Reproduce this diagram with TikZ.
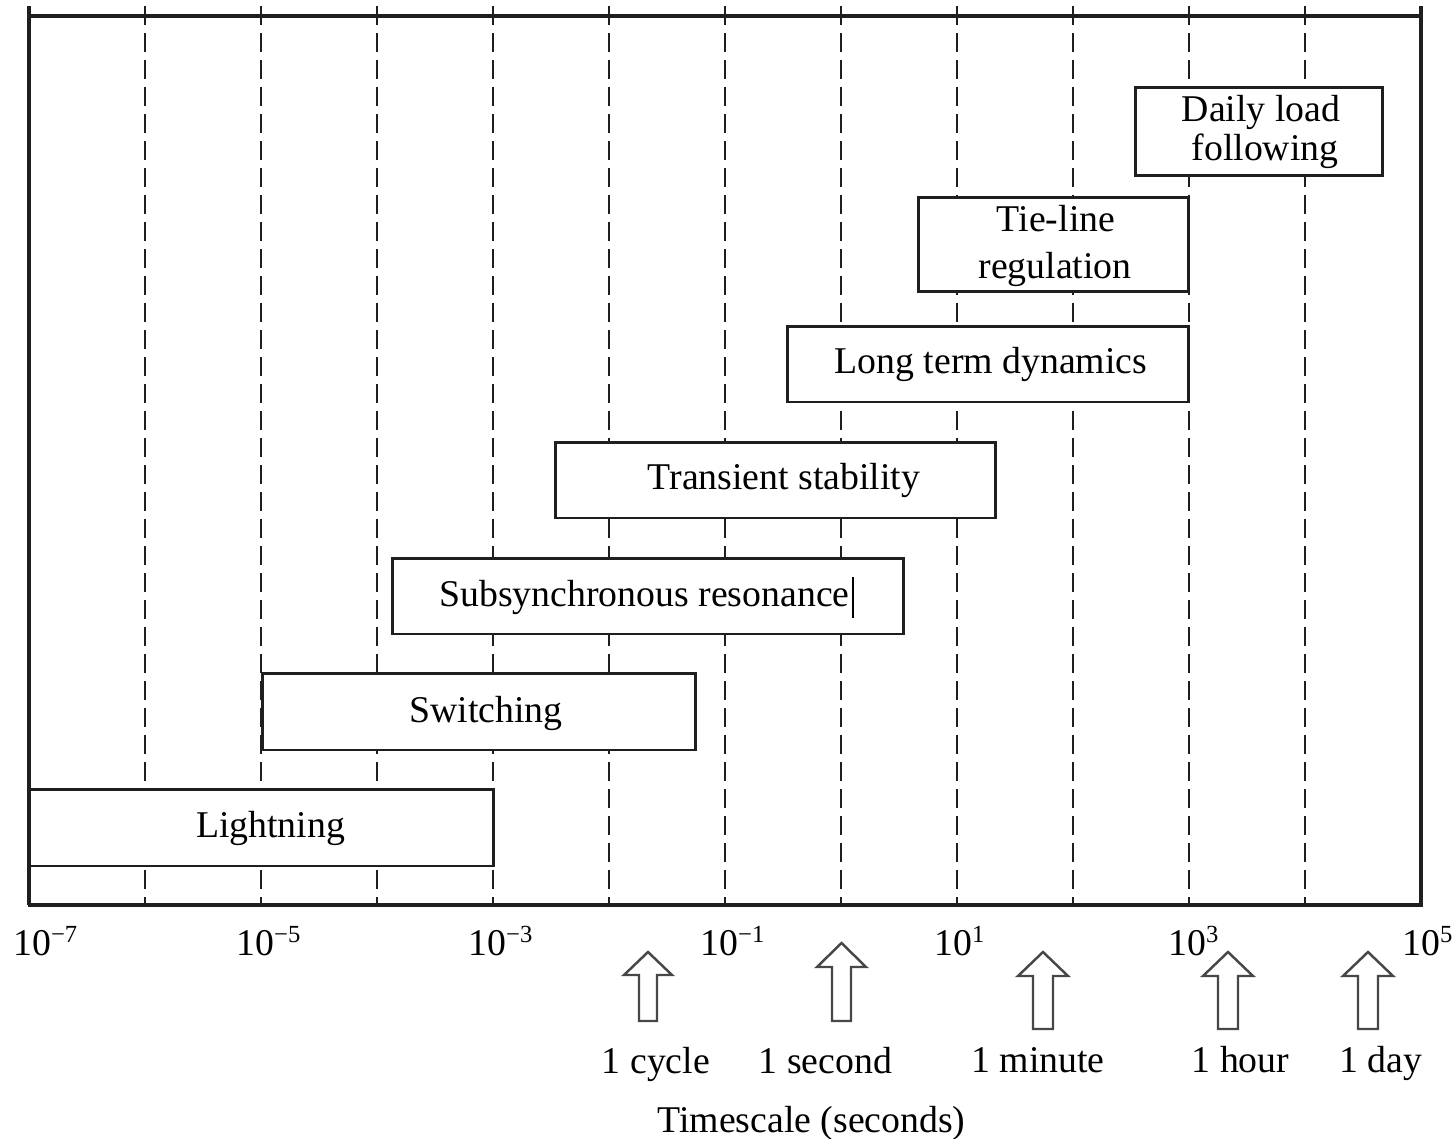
\documentclass[tikz,border=0pt]{standalone}
\usepackage{fontspec}
\setmainfont{Liberation Serif}
\newcommand\sexp[1]{\raisebox{7pt}{\fontsize{14}{14}\selectfont #1}}
\newcommand\uparr[6]{%
  \draw[hollow] (#1,#2) -- (#1+#4,#3) -- (#1+#6,#3) -- (#1+#6,#5) -- (#1-#6,#5) -- (#1-#6,#3) -- (#1-#4,#3) -- cycle;}
\tikzset{
  frame/.style={line width=1.85pt, draw=black!88},
  gridline/.style={line width=1.55pt, draw=black!88, dash pattern=on 0.38cm off 0.16cm},
  box/.style={draw=black!88, line width=1.7pt, fill=white, inner sep=0pt},
  lbl/.style={font=\fontsize{21.5}{26}\selectfont, anchor=base, inner sep=0pt},
  tick/.style={font=\fontsize{21.5}{26}\selectfont, anchor=base west, inner sep=0pt},
  hollow/.style={draw=black!72, line width=1.4pt, fill=white, line join=miter},
}
\begin{document}
\begin{tikzpicture}[x=0.02cm,y=-0.02cm]
\useasboundingbox (0,0) rectangle (1455,1139);
% grid
\foreach \x in {145,261,377,493,609,725,841,957,1073,1189,1305}
  \draw[gridline] (\x,6) -- (\x,905);
% frame
\draw[frame] (29,6) -- (29,905);
\draw[frame] (1421,6) -- (1421,905);
\draw[frame] (29,16) -- (1421,16);
\draw[frame] (27.5,905) -- (1422.5,905);
% boxes
\node[box, minimum width=4.96cm, minimum height=1.78cm] (daily) at (1259,131.5) {};
\node[box, minimum width=5.42cm, minimum height=1.9cm] (tie) at (1053.5,244.5) {};
\node[box, minimum width=8.04cm, minimum height=1.52cm] (long) at (988,364) {};
\node[box, minimum width=8.82cm, minimum height=1.52cm] (trans) at (775.5,480) {};
\node[box, minimum width=10.24cm, minimum height=1.52cm] (subs) at (648,596) {};
\node[box, minimum width=8.68cm, minimum height=1.54cm] (switch) at (479,711.5) {};
\node[box, minimum width=9.28cm, minimum height=1.54cm] (light) at (261.5,827.5) {};
% box texts
\node[lbl] (dailyA) at (1261,121) {Daily load};
\node[lbl] (dailyB) at (1265,160) {following};
\node[lbl] (tieA) at (1056,231) {Tie-line};
\node[lbl] (tieB) at (1055,278) {regulation};
\node[lbl] (longT) at (991,373) {Long term dynamics};
\node[lbl] (transT) at (784,489) {Transient stability};
\node[lbl] (subsT) at (644.5,606) {Subsynchronous resonance};
\node[lbl] (switchT) at (486,722) {Switching};
\node[lbl] (lightT) at (270.5,837) {Lightning};
\draw[line width=1.6pt] (853,577) -- (853,618);
% tick labels
\node[tick] (t1) at (13,955) {10\sexp{−7}};
\node[tick] (t2) at (236,955) {10\sexp{−5}};
\node[tick] (t3) at (468,955) {10\sexp{−3}};
\node[tick] (t4) at (700,955) {10\sexp{−1}};
\node[tick] (t5) at (934,955) {10\sexp{1}};
\node[tick] (t6) at (1168,955) {10\sexp{3}};
\node[tick] (t7) at (1402,955) {10\sexp{5}};
% arrows
\uparr{648}{952}{975}{24}{1021}{9}
\uparr{841.5}{943}{967}{24.5}{1021}{9.5}
\uparr{1043}{952}{976}{25}{1029}{10}
\uparr{1228}{952}{976}{25}{1029}{10}
\uparr{1368}{952}{976}{25}{1029}{10}
% arrow labels
\node[lbl] (cyc) at (656,1073) {1 cycle};
\node[lbl] (sec) at (825.5,1073) {1 second};
\node[lbl] (minu) at (1038,1072) {1 minute};
\node[lbl] (hour) at (1240.5,1072) {1 hour};
\node[lbl] (day) at (1381,1072) {1 day};
\node[lbl] (axis) at (811.5,1132) {Timescale (seconds)};
\end{tikzpicture}
\end{document}
